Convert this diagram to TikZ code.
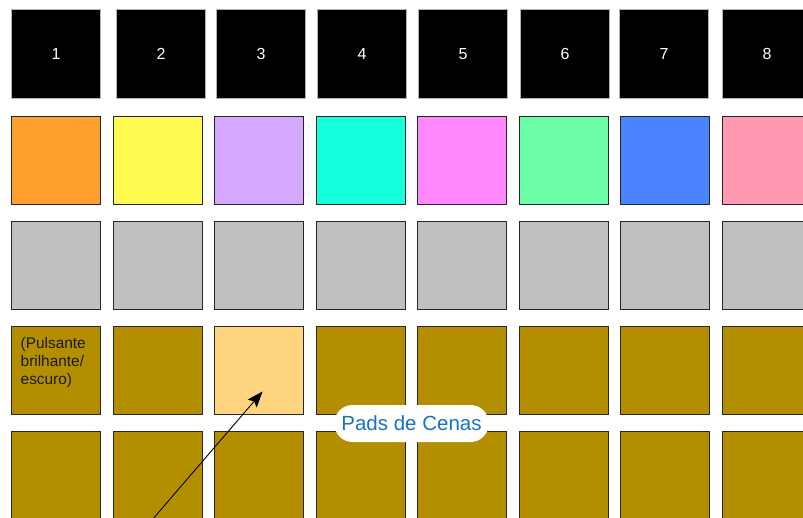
\documentclass[tikz,border=0pt]{standalone}
\usepackage{fontspec}
\setmainfont{Liberation Sans}
\usetikzlibrary{positioning,arrows.meta}

\definecolor{padorange}{HTML}{FF9F2D}
\definecolor{padyellow}{HTML}{FFFA4F}
\definecolor{padlilac}{HTML}{D5A8FF}
\definecolor{padcyan}{HTML}{14FFDC}
\definecolor{padmagenta}{HTML}{FF88FF}
\definecolor{padmint}{HTML}{6CFFA8}
\definecolor{padblue}{HTML}{4A83FF}
\definecolor{padrose}{HTML}{FF99B1}
\definecolor{padgray}{HTML}{C0C0C0}
\definecolor{padolive}{HTML}{B38F00}
\definecolor{padlight}{HTML}{FFD47F}
\definecolor{labelblue}{HTML}{1A73C2}

\begin{document}
\begin{tikzpicture}[x=1pt,y=-1pt,>={Stealth[length=16pt,width=12pt,inset=3pt]},
  pad/.style={draw=black!85,line width=0.9pt,minimum width=89pt,minimum height=88pt,inner sep=0pt,anchor=north west},
  toppad/.style={pad,fill=black,draw=black!30,minimum height=89pt,text=white,font=\fontsize{16}{19}\selectfont},
  tag/.style={fill=white,rounded corners=18pt,minimum height=37pt,inner xsep=7pt,text=labelblue,font=\fontsize{20.5}{24}\selectfont}]
  \useasboundingbox (0,0) rectangle (803,518);
  % track buttons
  \foreach \x [count=\i] in {11,116,216,317,418,520,619,722}
    \node[toppad] (t\i) at (\x,9) {\i};
  % track colours
  \foreach \c [count=\i] in {padorange,padyellow,padlilac,padcyan,padmagenta,padmint,padblue,padrose}
    \node[pad,fill=\c] (c\i) at (11+101.57*\i-101.57,116) {};
  \foreach \i in {1,...,8}
    \node[pad,fill=padgray] (g\i) at (11+101.57*\i-101.57,221) {};
  % scene pads
  \foreach \i in {1,...,8}
    \node[pad,fill=padolive] (s\i) at (11+101.57*\i-101.57,326) {};
  \node[pad,fill=padlight] (s3) at (214.14,326) {};
  \foreach \i in {1,...,8}
    \node[pad,fill=padolive] (u\i) at (11+101.57*\i-101.57,431) {};
  \node[anchor=north west,inner sep=0pt,align=left,text=black!90,
        font=\fontsize{15.4}{18.3}\selectfont] (pulse) at ([xshift=9.5pt,yshift=-11pt]s1.north west)
        {(Pulsante\\brilhante/\\escuro)};
  \node[tag] (scenes) at (411.5,423.5) {Pads de Cenas};
  \coordinate (tail) at (152,520);
  \draw[->,line width=0.9pt] (tail) -- ([xshift=3.5pt,yshift=-21pt]s3.center);
\end{tikzpicture}
\end{document}
